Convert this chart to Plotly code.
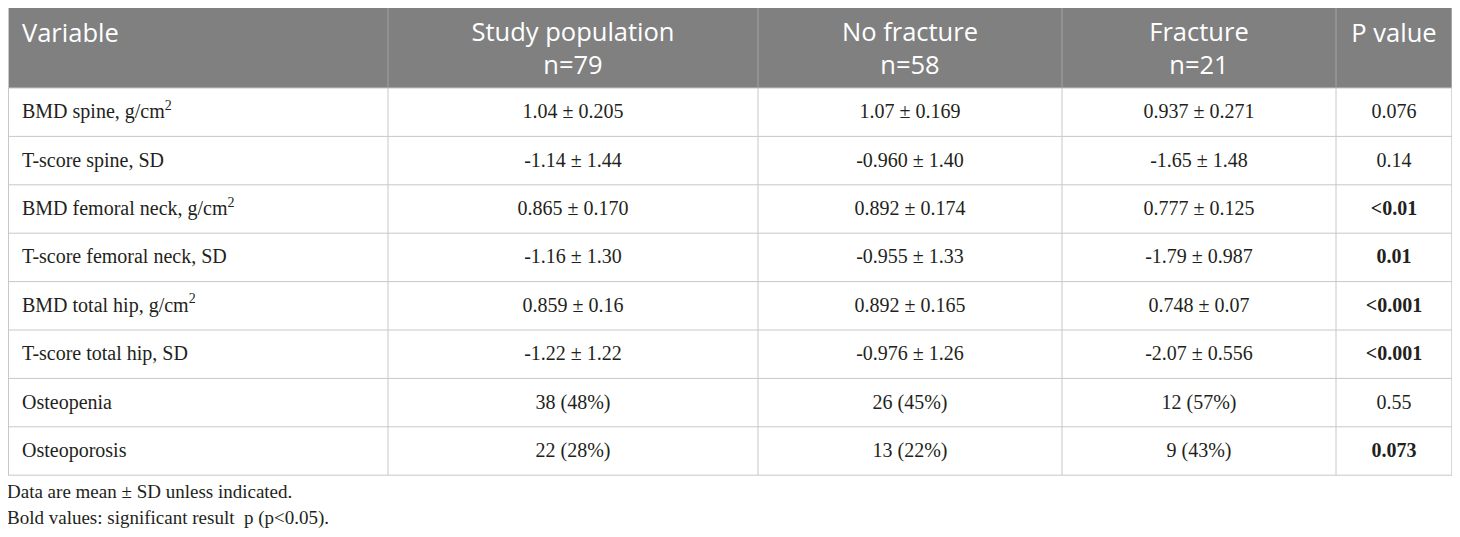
import numpy as np
import plotly.graph_objects as go

# ---------------- data ----------------
variables = [
    "BMD spine, g/cm<sup>2</sup>",
    "T-score spine, SD",
    "BMD femoral neck, g/cm<sup>2</sup>",
    "T-score femoral neck, SD",
    "BMD total hip, g/cm<sup>2</sup>",
    "T-score total hip, SD",
    "Osteopenia",
    "Osteoporosis",
]
study_population = ["1.04 ± 0.205", "-1.14 ± 1.44", "0.865 ± 0.170", "-1.16 ± 1.30",
                    "0.859 ± 0.16", "-1.22 ± 1.22", "38 (48%)", "22 (28%)"]
no_fracture = ["1.07 ± 0.169", "-0.960 ± 1.40", "0.892 ± 0.174", "-0.955 ± 1.33",
               "0.892 ± 0.165", "-0.976 ± 1.26", "26 (45%)", "13 (22%)"]
fracture = ["0.937 ± 0.271", "-1.65 ± 1.48", "0.777 ± 0.125", "-1.79 ± 0.987",
            "0.748 ± 0.07", "-2.07 ± 0.556", "12 (57%)", "9 (43%)"]
p_values = ["0.076", "0.14", "<0.01", "0.01", "<0.001", "<0.001", "0.55", "0.073"]
p_bold = [False, False, True, True, True, True, False, True]

header_titles = ["Variable", "Study population", "No fracture", "Fracture", "P value"]
header_n = ["", "n=79", "n=58", "n=21", ""]
footnotes = ["Data are mean ± SD unless indicated.",
             "Bold values: significant result  p (p<0.05)."]

# ---------------- layout (page pixel units) ----------------
W, H = 1460, 537
OFF = 8  # page body margin: figure origin sits 8px in from the window corner
col_widths = [380, 370, 304, 274, 116]
left, top = 8, 7
header_h = 81
row_h = 48.4
col_edges = left + np.concatenate([[0], np.cumsum(col_widths)])
n_rows = len(variables)
row_edges = top + header_h + row_h * np.arange(n_rows + 1)
row_centers = (row_edges[:-1] + row_edges[1:]) / 2 + 1
col_centers = (col_edges[:-1] + col_edges[1:]) / 2
table_bottom = row_edges[-1]

body_font = dict(family="Liberation Serif", size=20, color="#231f20")
head_font = dict(family="Open Sans", size=25.5, color="white")
grid = "#c8c8c8"

fig = go.Figure()

shapes = [dict(type="rect", x0=col_edges[0], x1=col_edges[-1], y0=top, y1=top + header_h,
               fillcolor="#808080", line_width=0, layer="below")]
for y in row_edges:
    shapes.append(dict(type="line", x0=col_edges[0], x1=col_edges[-1], y0=y, y1=y,
                       line=dict(color=grid, width=1)))
for i, x in enumerate(col_edges):
    shapes.append(dict(type="line", x0=x, x1=x, y0=top + header_h, y1=table_bottom,
                       line=dict(color=grid, width=1)))
    if 0 < i < len(col_edges) - 1:
        shapes.append(dict(type="line", x0=x, x1=x, y0=top, y1=top + header_h,
                           line=dict(color="#a3a3a3", width=1)))
for x in (col_edges[0] + 0.5, col_edges[-1]):
    shapes.append(dict(type="line", x0=x, x1=x, y0=top, y1=table_bottom,
                       line=dict(color=grid, width=1)))

# header text
line1_y = top + 29
fig.add_trace(go.Scatter(x=[col_edges[0] + 14, col_centers[4]], y=[line1_y] * 2,
                         text=[header_titles[0], header_titles[4]],
                         mode="text", textposition=["middle right", "middle center"],
                         textfont=head_font, hoverinfo="skip"))
two_line = [f"{t}<br>{n}" for t, n in zip(header_titles[1:4], header_n[1:4])]
fig.add_trace(go.Scatter(x=list(col_centers[1:4]), y=[top + 44] * 3, text=two_line,
                         mode="text", textposition="middle center", textfont=head_font,
                         hoverinfo="skip"))

# body text
fig.add_trace(go.Scatter(x=[col_edges[0] + 14] * n_rows, y=list(row_centers), text=variables,
                         mode="text", textposition="middle right", textfont=body_font,
                         hoverinfo="skip"))
p_text = [f"<b>{p}</b>" if b else p for p, b in zip(p_values, p_bold)]
for ci, col in enumerate([study_population, no_fracture, fracture, p_text], start=1):
    fig.add_trace(go.Scatter(x=[col_centers[ci]] * n_rows, y=list(row_centers), text=col,
                             mode="text", textposition="middle center", textfont=body_font,
                             hoverinfo="skip"))

# footnotes
for i, t in enumerate(footnotes):
    fig.add_annotation(text=t, xref="paper", x=0, xshift=-3,
                       y=table_bottom + 16 + i * 27,
                       xanchor="left", yanchor="middle", showarrow=False,
                       font=dict(family="Liberation Serif", size=19, color="#231f20"))

fig.update_layout(
    width=W, height=H,
    margin=dict(l=0, r=0, t=0, b=0),
    paper_bgcolor="white", plot_bgcolor="white",
    showlegend=False,
    shapes=shapes,
    xaxis=dict(range=[OFF, W + OFF], visible=False, fixedrange=True),
    yaxis=dict(range=[H + OFF, OFF], visible=False, fixedrange=True),
)
fig.write_html("out.html")
